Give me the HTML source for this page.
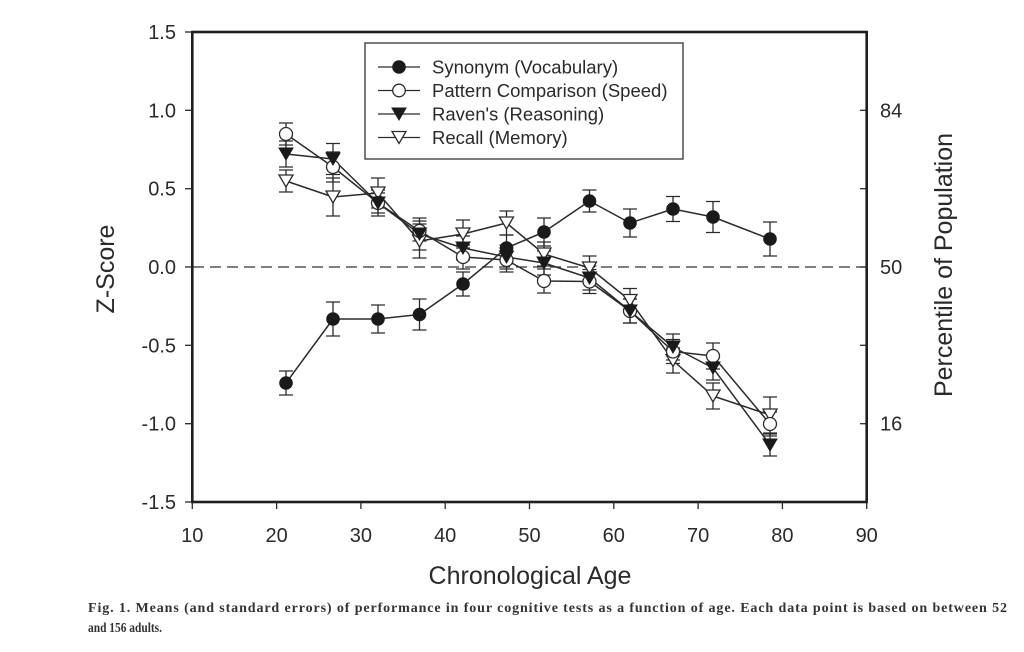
<!DOCTYPE html>
<html>
<head>
<meta charset="utf-8">
<style>
  html, body { margin: 0; padding: 0; background: #ffffff; }
  svg { display: block; }
  .ax { font-family: "Liberation Sans", Arial, sans-serif; fill: #2a2a2a; }
</style>
</head>
<body>
<svg width="1024" height="652" viewBox="0 0 1024 652" xmlns="http://www.w3.org/2000/svg">
  <rect x="0" y="0" width="1024" height="652" fill="#ffffff"/>

  <!-- dashed zero line -->
  <line x1="193" y1="267" x2="866" y2="267" stroke="#333" stroke-width="1.3" stroke-dasharray="11,6"/>

  <!-- frame -->
  <rect x="192.3" y="32" width="674.4" height="470" fill="none" stroke="#1f1f1f" stroke-width="2.6"/>

  <!-- left ticks -->
  <g stroke="#2a2a2a" stroke-width="1.3">
    <line x1="185" y1="32" x2="192" y2="32"/>
    <line x1="185" y1="110.3" x2="192" y2="110.3"/>
    <line x1="185" y1="188.7" x2="192" y2="188.7"/>
    <line x1="185" y1="267" x2="192" y2="267"/>
    <line x1="185" y1="345.3" x2="192" y2="345.3"/>
    <line x1="185" y1="423.7" x2="192" y2="423.7"/>
    <line x1="185" y1="502" x2="192" y2="502"/>
    <!-- right ticks (inward) -->
    <line x1="860" y1="110.3" x2="866" y2="110.3"/>
    <line x1="860" y1="188.7" x2="866" y2="188.7"/>
    <line x1="860" y1="267" x2="866" y2="267"/>
    <line x1="860" y1="345.3" x2="866" y2="345.3"/>
    <line x1="860" y1="423.7" x2="866" y2="423.7"/>
    <!-- bottom ticks -->
    <line x1="192.3" y1="502" x2="192.3" y2="509"/>
    <line x1="276.6" y1="502" x2="276.6" y2="509"/>
    <line x1="360.9" y1="502" x2="360.9" y2="509"/>
    <line x1="445.2" y1="502" x2="445.2" y2="509"/>
    <line x1="529.5" y1="502" x2="529.5" y2="509"/>
    <line x1="613.8" y1="502" x2="613.8" y2="509"/>
    <line x1="698.1" y1="502" x2="698.1" y2="509"/>
    <line x1="782.4" y1="502" x2="782.4" y2="509"/>
    <line x1="866.7" y1="502" x2="866.7" y2="509"/>
  </g>

  <!-- left tick labels -->
  <g class="ax" font-size="20" text-anchor="end">
    <text x="176" y="39">1.5</text>
    <text x="176" y="117.3">1.0</text>
    <text x="176" y="195.7">0.5</text>
    <text x="176" y="274">0.0</text>
    <text x="176" y="352.3">-0.5</text>
    <text x="176" y="430.7">-1.0</text>
    <text x="176" y="509">-1.5</text>
  </g>
  <!-- right tick labels -->
  <g class="ax" font-size="20" text-anchor="start">
    <text x="880" y="117.3">84</text>
    <text x="880" y="274">50</text>
    <text x="880" y="430.7">16</text>
  </g>
  <!-- bottom tick labels -->
  <g class="ax" font-size="20" text-anchor="middle">
    <text x="192.3" y="542">10</text>
    <text x="276.6" y="542">20</text>
    <text x="360.9" y="542">30</text>
    <text x="445.2" y="542">40</text>
    <text x="529.5" y="542">50</text>
    <text x="613.8" y="542">60</text>
    <text x="698.1" y="542">70</text>
    <text x="782.4" y="542">80</text>
    <text x="866.7" y="542">90</text>
  </g>

  <!-- axis titles -->
  <text class="ax" x="530" y="584" font-size="25" text-anchor="middle">Chronological Age</text>
  <text class="ax" x="0" y="0" font-size="25" text-anchor="middle" transform="translate(114,269) rotate(-90)">Z-Score</text>
  <text class="ax" x="0" y="0" font-size="25" text-anchor="middle" transform="translate(952,265) rotate(-90)">Percentile of Population</text>

  <!-- series lines -->
  <g fill="none" stroke="#2b2b2b" stroke-width="1.5" stroke-linejoin="round">
    <polyline points="286,383 333,319 378,319 419.5,314.5 463,284 506.5,248 544,232 589.5,201 630,223 673,209 713,217 770,239"/>
    <polyline points="286,134 333,167 378,203 419.5,231 463,257 506.5,260 544,281 589.5,281.5 630,311 673,351.5 713,356 770,424"/>
    <polyline points="286,154 333,159 378,203 419.5,234 463,248 506.5,257 544,263 589.5,278 630,311 673,347 713,368 770,445"/>
    <polyline points="286,181 333,197 378,193 419.5,241 463,234 506.5,223 544,254 589.5,268 630,300.5 673,360.5 713,396 770,415"/>
  </g>

  <!-- error bars -->
  <g stroke="#2b2b2b" stroke-width="1.3" fill="none">
    <!-- Synonym -->
    <path d="M286,371V395M279,371h14M279,395h14"/>
    <path d="M333,302V336M326,302h14M326,336h14"/>
    <path d="M378,305V333M371,305h14M371,333h14"/>
    <path d="M419.5,299V330M412.5,299h14M412.5,330h14"/>
    <path d="M463,272V296M456,272h14M456,296h14"/>
    <path d="M506.5,235V261M499.5,235h14M499.5,261h14"/>
    <path d="M544,218V246M537,218h14M537,246h14"/>
    <path d="M589.5,190V212M582.5,190h14M582.5,212h14"/>
    <path d="M630,209V237M623,209h14M623,237h14"/>
    <path d="M673,196.5V221.5M666,196.5h14M666,221.5h14"/>
    <path d="M713,201.5V232.5M706,201.5h14M706,232.5h14"/>
    <path d="M770,222V256M763,222h14M763,256h14"/>
    <!-- Pattern -->
    <path d="M286,123V145M279,123h14M279,145h14"/>
    <path d="M333,152V182M326,152h14M326,182h14"/>
    <path d="M378,193V213M371,193h14M371,213h14"/>
    <path d="M419.5,221V241M412.5,221h14M412.5,241h14"/>
    <path d="M463,245V269M456,245h14M456,269h14"/>
    <path d="M506.5,248V272M499.5,248h14M499.5,272h14"/>
    <path d="M544,269V293M537,269h14M537,293h14"/>
    <path d="M589.5,269.5V293.5M582.5,269.5h14M582.5,293.5h14"/>
    <path d="M630,299V323M623,299h14M623,323h14"/>
    <path d="M673,339.5V363.5M666,339.5h14M666,363.5h14"/>
    <path d="M713,343V369M706,343h14M706,369h14"/>
    <path d="M770,412V436M763,412h14M763,436h14"/>
    <!-- Raven -->
    <path d="M286,141V167M279,141h14M279,167h14"/>
    <path d="M333,143.5V174.5M326,143.5h14M326,174.5h14"/>
    <path d="M378,190V216M371,190h14M371,216h14"/>
    <path d="M419.5,218V250M412.5,218h14M412.5,250h14"/>
    <path d="M463,236V260M456,236h14M456,260h14"/>
    <path d="M506.5,245V269M499.5,245h14M499.5,269h14"/>
    <path d="M544,251V275M537,251h14M537,275h14"/>
    <path d="M589.5,266V290M582.5,266h14M582.5,290h14"/>
    <path d="M630,299V323M623,299h14M623,323h14"/>
    <path d="M673,334V360M666,334h14M666,360h14"/>
    <path d="M713,356V380M706,356h14M706,380h14"/>
    <path d="M770,434V456M763,434h14M763,456h14"/>
    <!-- Recall -->
    <path d="M286,170V192M279,170h14M279,192h14"/>
    <path d="M333,178V216M326,178h14M326,216h14"/>
    <path d="M378,178V208M371,178h14M371,208h14"/>
    <path d="M419.5,224V258M412.5,224h14M412.5,258h14"/>
    <path d="M463,220V248M456,220h14M456,248h14"/>
    <path d="M506.5,211V235M499.5,211h14M499.5,235h14"/>
    <path d="M544,242V266M537,242h14M537,266h14"/>
    <path d="M589.5,256V280M582.5,256h14M582.5,280h14"/>
    <path d="M630,288.5V312.5M623,288.5h14M623,312.5h14"/>
    <path d="M673,348V373M666,348h14M666,373h14"/>
    <path d="M713,383V409M706,383h14M706,409h14"/>
    <path d="M770,397V433M763,397h14M763,433h14"/>
  </g>

  <!-- markers: Recall (open down triangle) -->
  <g fill="#ffffff" stroke="#2b2b2b" stroke-width="1.3">
    <path d="M279,175 h14 l-7,12 z"/>
    <path d="M326,191 h14 l-7,12 z"/>
    <path d="M371,187 h14 l-7,12 z"/>
    <path d="M412.5,235 h14 l-7,12 z"/>
    <path d="M456,228 h14 l-7,12 z"/>
    <path d="M499.5,217 h14 l-7,12 z"/>
    <path d="M537,248 h14 l-7,12 z"/>
    <path d="M582.5,262 h14 l-7,12 z"/>
    <path d="M623,294.5 h14 l-7,12 z"/>
    <path d="M666,354.5 h14 l-7,12 z"/>
    <path d="M706,390 h14 l-7,12 z"/>
    <path d="M763,409 h14 l-7,12 z"/>
  </g>
  <!-- Pattern (open circle) -->
  <g fill="#ffffff" stroke="#2b2b2b" stroke-width="1.3">
    <circle cx="286" cy="134" r="6.5"/>
    <circle cx="333" cy="167" r="6.5"/>
    <circle cx="378" cy="203" r="6.5"/>
    <circle cx="419.5" cy="231" r="6.5"/>
    <circle cx="463" cy="257" r="6.5"/>
    <circle cx="506.5" cy="260" r="6.5"/>
    <circle cx="544" cy="281" r="6.5"/>
    <circle cx="589.5" cy="281.5" r="6.5"/>
    <circle cx="630" cy="311" r="6.5"/>
    <circle cx="673" cy="351.5" r="6.5"/>
    <circle cx="713" cy="356" r="6.5"/>
    <circle cx="770" cy="424" r="6.5"/>
  </g>
  <!-- Raven (filled down triangle) -->
  <g fill="#1a1a1a" stroke="#1a1a1a" stroke-width="1">
    <path d="M279,148 h14 l-7,12 z"/>
    <path d="M326,153 h14 l-7,12 z"/>
    <path d="M371,197 h14 l-7,12 z"/>
    <path d="M412.5,228 h14 l-7,12 z"/>
    <path d="M456,242 h14 l-7,12 z"/>
    <path d="M499.5,251 h14 l-7,12 z"/>
    <path d="M537,257 h14 l-7,12 z"/>
    <path d="M582.5,272 h14 l-7,12 z"/>
    <path d="M623,305 h14 l-7,12 z"/>
    <path d="M666,341 h14 l-7,12 z"/>
    <path d="M706,362 h14 l-7,12 z"/>
    <path d="M763,439 h14 l-7,12 z"/>
  </g>
  <!-- Synonym (filled circle) -->
  <g fill="#1a1a1a" stroke="#1a1a1a" stroke-width="1">
    <circle cx="286" cy="383" r="6.3"/>
    <circle cx="333" cy="319" r="6.3"/>
    <circle cx="378" cy="319" r="6.3"/>
    <circle cx="419.5" cy="314.5" r="6.3"/>
    <circle cx="463" cy="284" r="6.3"/>
    <circle cx="506.5" cy="248" r="6.3"/>
    <circle cx="544" cy="232" r="6.3"/>
    <circle cx="589.5" cy="201" r="6.3"/>
    <circle cx="630" cy="223" r="6.3"/>
    <circle cx="673" cy="209" r="6.3"/>
    <circle cx="713" cy="217" r="6.3"/>
    <circle cx="770" cy="239" r="6.3"/>
  </g>

  <!-- legend -->
  <rect x="365" y="43" width="318" height="116" fill="#ffffff" stroke="#333" stroke-width="1.3"/>
  <g stroke="#2b2b2b" stroke-width="1.3">
    <line x1="378" y1="67" x2="420" y2="67"/>
    <line x1="378" y1="90.5" x2="420" y2="90.5"/>
    <line x1="378" y1="114" x2="420" y2="114"/>
    <line x1="378" y1="137.5" x2="420" y2="137.5"/>
  </g>
  <circle cx="399" cy="67" r="6.3" fill="#1a1a1a" stroke="#1a1a1a" stroke-width="1"/>
  <circle cx="399" cy="90.5" r="6.3" fill="#ffffff" stroke="#2b2b2b" stroke-width="1.3"/>
  <path d="M392,108 h14 l-7,12 z" fill="#1a1a1a" stroke="#1a1a1a" stroke-width="1"/>
  <path d="M392,131.5 h14 l-7,12 z" fill="#ffffff" stroke="#2b2b2b" stroke-width="1.3"/>
  <g class="ax" font-size="18.5">
    <text x="432" y="73.5">Synonym (Vocabulary)</text>
    <text x="432" y="97">Pattern Comparison (Speed)</text>
    <text x="432" y="120.5">Raven's (Reasoning)</text>
    <text x="432" y="144">Recall (Memory)</text>
  </g>

  <!-- caption -->
  <g font-family="'Liberation Serif', 'Times New Roman', serif" font-weight="bold" font-size="14" fill="#333">
    <text x="88" y="612" textLength="919" lengthAdjust="spacing">Fig. 1.  Means (and standard errors) of performance in four cognitive tests as a function of age. Each data point is based on between 52</text>
    <text x="88" y="632" textLength="74" lengthAdjust="spacingAndGlyphs">and 156 adults.</text>
  </g>
</svg>
</body>
</html>
